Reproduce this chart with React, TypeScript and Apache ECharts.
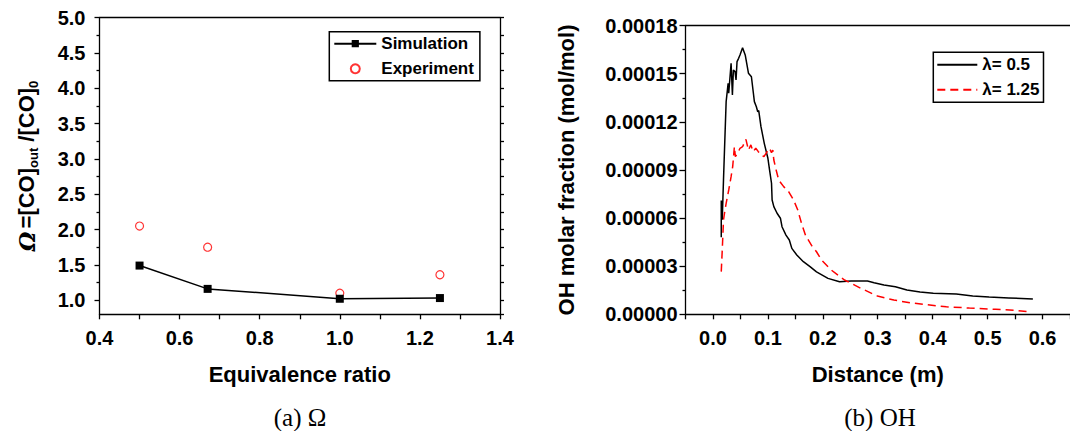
import React, { useEffect, useRef } from "react";
import * as echarts from "echarts";

// ---- Data: panel (a) ----
const eqRatio = [0.5, 0.67, 1.0, 1.25];
const simOmega = [1.49, 1.16, 1.02, 1.03];
const expOmega = [2.05, 1.75, 1.1, 1.36];
const omegaLabelValues = [1.0, 1.5, 2.0, 2.5, 3.0, 3.5, 4.0, 4.5, 5.0];
const omegaMinorValues = [1.25, 1.75, 2.25, 2.75, 3.25, 3.75, 4.25, 4.75];
const omegaAllTicks = [0.8, 1.0, 1.25, 1.5, 1.75, 2.0, 2.25, 2.5, 2.75, 3.0, 3.25, 3.5, 3.75, 4.0, 4.25, 4.5, 4.75, 5.0];

// ---- Data: panel (b) ----
const lam05Dist = [0.0151, 0.0151, 0.0169, 0.018, 0.0192, 0.021, 0.024, 0.0276, 0.0287, 0.033, 0.0354, 0.0372, 0.0402, 0.042, 0.0438, 0.0467, 0.0492, 0.0539, 0.0587, 0.0646, 0.07, 0.0736, 0.0754, 0.079, 0.0815, 0.0833, 0.0874, 0.0934, 0.1, 0.103, 0.1066, 0.1077, 0.1108, 0.1167, 0.1228, 0.1257, 0.1329, 0.139, 0.1436, 0.1526, 0.1646, 0.1767, 0.1885, 0.2094, 0.2305, 0.2513, 0.2813, 0.2933, 0.3113, 0.3321, 0.3531, 0.377, 0.4011, 0.4429, 0.4729, 0.5027, 0.5386, 0.5824];
const lam05OH = [4.8e-5, 7.1e-5, 5.9e-5, 7.1e-5, 8.4e-5, 1.025e-4, 1.326e-4, 1.44e-4, 1.378e-4, 1.565e-4, 1.367e-4, 1.523e-4, 1.513e-4, 1.461e-4, 1.575e-4, 1.596e-4, 1.617e-4, 1.662e-4, 1.617e-4, 1.503e-4, 1.481e-4, 1.378e-4, 1.326e-4, 1.294e-4, 1.263e-4, 1.27e-4, 1.17e-4, 1.066e-4, 9.73e-5, 9.0e-5, 8.17e-5, 7.13e-5, 6.71e-5, 6.3e-5, 5.99e-5, 5.46e-5, 4.94e-5, 4.63e-5, 4.11e-5, 3.7e-5, 3.28e-5, 2.97e-5, 2.65e-5, 2.24e-5, 2.03e-5, 2.08e-5, 2.08e-5, 1.97e-5, 1.83e-5, 1.72e-5, 1.52e-5, 1.39e-5, 1.31e-5, 1.27e-5, 1.14e-5, 1.08e-5, 1.02e-5, 9.5e-6];
const lam125Dist = [0.0151, 0.0169, 0.0192, 0.021, 0.024, 0.0287, 0.033, 0.0359, 0.039, 0.0408, 0.0449, 0.0492, 0.0539, 0.06, 0.0646, 0.069, 0.0731, 0.0779, 0.0826, 0.0874, 0.0928, 0.0987, 0.103, 0.1066, 0.109, 0.1108, 0.115, 0.1197, 0.1287, 0.1377, 0.1467, 0.1544, 0.1616, 0.1688, 0.1795, 0.1885, 0.1975, 0.2154, 0.2395, 0.2693, 0.2993, 0.3293, 0.3591, 0.389, 0.4249, 0.4668, 0.5147, 0.5506, 0.5745];
const lam125OH = [2.66e-5, 4.0e-5, 5.88e-5, 6.3e-5, 6.92e-5, 7.75e-5, 8.58e-5, 9.2e-5, 1.045e-4, 9.83e-5, 1.004e-4, 1.035e-4, 1.045e-4, 1.091e-4, 1.024e-4, 1.056e-4, 1.014e-4, 1.035e-4, 1.014e-4, 9.93e-5, 9.83e-5, 1.014e-4, 1.035e-4, 1.008e-4, 1.024e-4, 9.62e-5, 9.0e-5, 8.37e-5, 7.96e-5, 7.65e-5, 7.13e-5, 6.5e-5, 5.62e-5, 4.9e-5, 4.3e-5, 3.9e-5, 3.39e-5, 2.76e-5, 2.14e-5, 1.62e-5, 1.14e-5, 8.9e-6, 7.2e-6, 6.0e-6, 4.7e-6, 3.9e-6, 3.1e-6, 2.5e-6, 1.6e-6];
const distLabelValues = [0.0, 0.1, 0.2, 0.3, 0.4, 0.5, 0.6];
const distTickValues = [-0.05, 0.0, 0.05, 0.1, 0.15, 0.2, 0.25, 0.3, 0.35, 0.4, 0.45, 0.5, 0.55, 0.6, 0.65];

const SANS = 'Arial, "Liberation Sans", sans-serif';
const SERIF = '"Times New Roman", "Liberation Serif", serif';
const AX = { color: "#000", width: 1.3 };

const labelStyle = (fmt: (v: number) => string, margin: number, extra: any = {}) => ({
  show: true,
  margin,
  color: "#000",
  fontSize: 20,
  fontWeight: "bold",
  fontFamily: SANS,
  formatter: fmt,
  ...extra,
});

export default function App() {
  const ref = useRef<HTMLDivElement>(null);

  useEffect(() => {
    if (!ref.current) return;
    const chart = echarts.init(ref.current, undefined, { renderer: "svg" });

    const option: any = {
      animation: false,
      backgroundColor: "#fff",
      grid: [
        { left: 99.5, top: 17.7, width: 400.5, height: 296.6 },
        { left: 685.5, top: 25.6, width: 389.9, height: 288.7 },
      ],
      xAxis: [
        {
          gridIndex: 0,
          type: "value",
          min: 0.4,
          max: 1.4,
          interval: 0.2,
          axisLine: { show: true, onZero: false, lineStyle: AX },
          axisTick: { show: true, length: 5, lineStyle: AX },
          minorTick: { show: true, splitNumber: 2, length: 5, lineStyle: AX },
          splitLine: { show: false },
          minorSplitLine: { show: false },
          axisLabel: labelStyle((v: number) => v.toFixed(1), 14),
          name: "Equivalence ratio",
          nameLocation: "middle",
          nameGap: 49,
          nameTextStyle: { fontSize: 22, fontWeight: "bold", fontFamily: SANS, color: "#000" },
        },
        {
          gridIndex: 0,
          type: "value",
          position: "top",
          min: 0.4,
          max: 1.4,
          axisLine: { show: true, onZero: false, lineStyle: AX },
          axisTick: { show: false },
          axisLabel: { show: false },
          splitLine: { show: false },
        },
        {
          gridIndex: 1,
          type: "value",
          min: -0.05,
          max: 0.65,
          axisLine: { show: true, onZero: false, lineStyle: AX },
          axisTick: { show: true, length: 5, lineStyle: AX, customValues: distTickValues },
          splitLine: { show: false },
          axisLabel: labelStyle((v: number) => v.toFixed(1), 14, { customValues: distLabelValues }),
          name: "Distance (m)",
          nameLocation: "middle",
          nameGap: 49,
          nameTextStyle: { fontSize: 22, fontWeight: "bold", fontFamily: SANS, color: "#000" },
        },
        {
          gridIndex: 1,
          type: "value",
          position: "top",
          min: -0.05,
          max: 0.65,
          axisLine: { show: true, onZero: false, lineStyle: AX },
          axisTick: { show: false },
          axisLabel: { show: false },
          splitLine: { show: false },
        },
      ],
      yAxis: [
        {
          gridIndex: 0,
          type: "value",
          position: "left",
          min: 0.8,
          max: 5.0,
          axisLine: { show: true, onZero: false, lineStyle: AX },
          axisTick: { show: true, length: 5, lineStyle: AX, customValues: omegaLabelValues },
          splitLine: { show: false },
          axisLabel: labelStyle((v: number) => v.toFixed(1), 14, { customValues: omegaLabelValues }),
        },
        {
          gridIndex: 0,
          type: "value",
          position: "left",
          min: 0.8,
          max: 5.0,
          axisLine: { show: false, onZero: false },
          axisTick: { show: true, length: 3, lineStyle: AX, customValues: omegaMinorValues },
          splitLine: { show: false },
          axisLabel: { show: false },
        },
        {
          gridIndex: 0,
          type: "value",
          position: "right",
          min: 0.8,
          max: 5.0,
          axisLine: { show: true, onZero: false, lineStyle: AX },
          axisTick: { show: true, length: 4, lineStyle: AX, customValues: omegaAllTicks },
          splitLine: { show: false },
          axisLabel: { show: false },
        },
        {
          gridIndex: 1,
          type: "value",
          position: "left",
          min: 0,
          max: 0.00018,
          interval: 0.00003,
          axisLine: { show: true, onZero: false, lineStyle: AX },
          axisTick: { show: true, length: 6, lineStyle: AX },
          minorTick: { show: true, splitNumber: 2, length: 3, lineStyle: AX },
          splitLine: { show: false },
          minorSplitLine: { show: false },
          axisLabel: labelStyle((v: number) => v.toFixed(5), 8),
        },
      ],
      legend: [
        {
          data: ["Simulation", "Experiment"],
          orient: "vertical",
          left: 329.3,
          top: 31.7,
          padding: [3.5, 6, 3.5, 4],
          itemGap: 8,
          itemWidth: 42,
          itemHeight: 9,
          borderColor: "#000",
          borderWidth: 1.5,
          borderRadius: 0,
          textStyle: { fontSize: 17, fontWeight: "bold", fontFamily: SANS, color: "#000", lineHeight: 17 },
        },
        {
          data: ["λ= 0.5", "λ= 1.25"],
          orient: "vertical",
          left: 933.3,
          top: 52.3,
          padding: [4, 4, 4, 3],
          itemGap: 8,
          itemWidth: 40,
          itemHeight: 10,
          borderColor: "#000",
          borderWidth: 1.5,
          borderRadius: 0,
          itemStyle: { opacity: 0 },
          textStyle: { fontSize: 17, fontWeight: "bold", fontFamily: SANS, color: "#000", lineHeight: 17 },
        },
      ],
      series: [
        {
          name: "Simulation",
          type: "line",
          xAxisIndex: 0,
          yAxisIndex: 0,
          data: eqRatio.map((x, i) => [x, simOmega[i]]),
          symbol: "rect",
          symbolSize: 8,
          lineStyle: { color: "#000", width: 1.5 },
          itemStyle: { color: "#000" },
        },
        {
          name: "Experiment",
          type: "scatter",
          xAxisIndex: 0,
          yAxisIndex: 0,
          data: eqRatio.map((x, i) => [x, expOmega[i]]),
          symbol: "circle",
          symbolSize: 8,
          itemStyle: { color: "#fff", borderColor: "#ff0000", borderWidth: 1.2 },
        },
        {
          name: "λ= 0.5",
          type: "line",
          xAxisIndex: 2,
          yAxisIndex: 3,
          data: lam05Dist.map((x, i) => [x, lam05OH[i]]),
          symbol: "none",
          showSymbol: false,
          lineStyle: { color: "#000", width: 1.5 },
          itemStyle: { color: "#000" },
        },
        {
          name: "λ= 1.25",
          type: "line",
          xAxisIndex: 2,
          yAxisIndex: 3,
          data: lam125Dist.map((x, i) => [x, lam125OH[i]]),
          symbol: "none",
          showSymbol: false,
          lineStyle: { color: "#ff0000", width: 1.5, type: [8, 5] },
          itemStyle: { color: "#ff0000" },
        },
      ],
      graphic: [
        {
          type: "text",
          x: 27.5,
          y: 166,
          rotation: Math.PI / 2,
          style: {
            text: "{o|Ω} {m|=[CO]}{s|out}{m| /[CO]}{s|0}",
            align: "center",
            verticalAlign: "middle",
            textAlign: "center",
            textVerticalAlign: "middle",
            fill: "#000",
            rich: {
              o: { fontSize: 22, fontWeight: "bold", fontStyle: "italic", fontFamily: '"DejaVu Serif", serif', lineHeight: 24, verticalAlign: "top", fill: "#000" },
              m: { fontSize: 22, fontWeight: "bold", fontFamily: SANS, lineHeight: 24, verticalAlign: "top", fill: "#000" },
              s: { fontSize: 13, fontWeight: "bold", fontFamily: SANS, lineHeight: 14, padding: [12, 0, 0, 0], verticalAlign: "bottom", fill: "#000" },
            },
          },
        },
        {
          type: "text",
          x: 566,
          y: 170,
          rotation: Math.PI / 2,
          style: {
            text: "OH molar fraction (mol/mol)",
            font: `bold 22px ${SANS}`,
            fill: "#000",
            align: "center",
            verticalAlign: "middle",
            textAlign: "center",
            textVerticalAlign: "middle",
          },
        },
        {
          type: "text",
          x: 300,
          y: 417,
          style: {
            text: "(a) Ω",
            font: `25px ${SERIF}`,
            fill: "#000",
            align: "center",
            verticalAlign: "middle",
            textAlign: "center",
            textVerticalAlign: "middle",
          },
        },
        {
          type: "text",
          x: 880,
          y: 417,
          style: {
            text: "(b) OH",
            font: `25px ${SERIF}`,
            fill: "#000",
            align: "center",
            verticalAlign: "middle",
            textAlign: "center",
            textVerticalAlign: "middle",
          },
        },
      ],
    };

    chart.setOption(option);
    return () => chart.dispose();
  }, []);

  return (
    <div
      ref={ref}
      style={{ position: "absolute", left: 0, top: 0, width: 1070, height: 431, background: "#fff" }}
    />
  );
}
